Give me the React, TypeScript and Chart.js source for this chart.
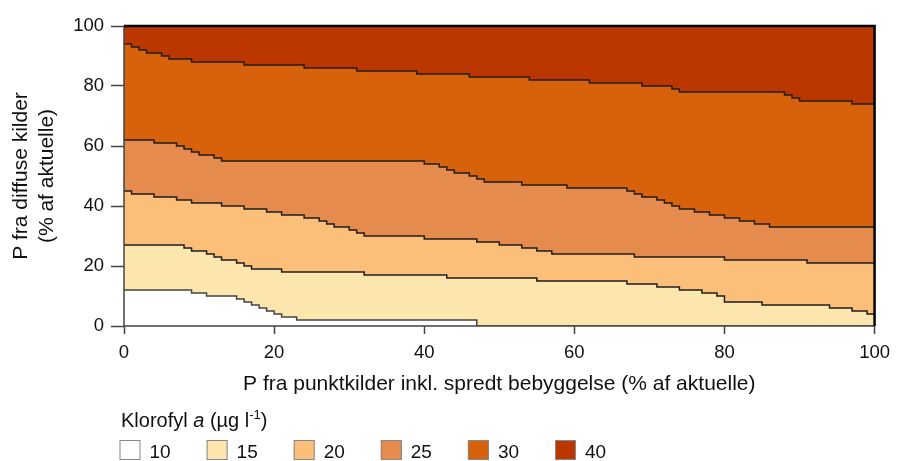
import React, { useEffect, useRef } from 'react';
import { Chart, registerables } from 'chart.js';

Chart.register(...registerables);

// Boundary between classes (x = start of each step, y = level of that step)
const b10x = [0, 9, 11, 15, 16, 17, 18, 19, 20, 21, 23, 47];
const b10y = [12, 11, 10, 9, 8, 7, 6, 5, 4, 3, 2, 0];

const b15x = [0, 8, 9, 11, 12, 13, 15, 16, 17, 21, 32, 43, 55, 67, 71, 74, 77, 79, 80, 85, 94, 97, 99];
const b15y = [27, 26, 25, 24, 23, 22, 21, 20, 19, 18, 17, 16, 15, 14, 13, 12, 11, 10, 8, 7, 6, 5, 4];

const b20x = [0, 1, 4, 7, 9, 13, 16, 19, 21, 24, 26, 27, 28, 30, 31, 32, 40, 47, 50, 53, 55, 57, 68, 80, 91];
const b20y = [45, 44, 43, 42, 41, 40, 39, 38, 37, 36, 35, 34, 33, 32, 31, 30, 29, 28, 27, 26, 25, 24, 23, 22, 21];

const b25x = [0, 4, 7, 8, 9, 10, 12, 13, 40, 42, 43, 44, 46, 47, 48, 53, 59, 67, 68, 69, 71, 72, 73, 74, 76, 78, 80, 82, 84, 86];
const b25y = [62, 61, 60, 59, 58, 57, 56, 55, 54, 53, 52, 51, 50, 49, 48, 47, 46, 45, 44, 43, 42, 41, 40, 39, 38, 37, 36, 35, 34, 33];

const b30x = [0, 1, 2, 3, 5, 6, 9, 16, 24, 31, 39, 46, 54, 62, 69, 73, 74, 88, 89, 90, 97];
const b30y = [94, 93, 92, 91, 90, 89, 88, 87, 86, 85, 84, 83, 82, 81, 80, 79, 78, 77, 76, 75, 74];

const legendLabels = ['10', '15', '20', '25', '30', '40'];
const classColors = ['#FFFFFF', '#FDE6AD', '#FBBF79', '#E48B4D', '#D8610B', '#BC3700'];

const xTitle = 'P fra punktkilder inkl. spredt bebyggelse (% af aktuelle)';
const yTitle = ['P fra diffuse kilder', '(% af aktuelle)'];
const legendTitle = ['Klorofyl ', 'a', ' (µg l', '-1', ')'];

const FONT = "'Liberation Sans', Arial, Helvetica, sans-serif";

function toPoints(xs: number[], ys: number[]) {
  const pts = xs.map((x, i) => ({ x, y: ys[i] }));
  pts.push({ x: 100, y: ys[ys.length - 1] });
  return pts;
}

const bgPlugin = {
  id: 'bgFill',
  beforeDatasetsDraw(chart: any) {
    const { ctx, chartArea: a } = chart;
    ctx.save();
    ctx.fillStyle = classColors[5];
    ctx.fillRect(a.left, a.top, a.right - a.left, a.bottom - a.top);
    ctx.restore();
  },
};

const framePlugin = {
  id: 'frame',
  afterDatasetsDraw(chart: any) {
    const { ctx, chartArea: a } = chart;
    ctx.save();
    ctx.strokeStyle = '#444';
    ctx.lineWidth = 1.5;
    ctx.beginPath();
    ctx.moveTo(a.left, a.top);
    ctx.lineTo(a.left, a.bottom);
    ctx.lineTo(a.right, a.bottom);
    ctx.stroke();
    ctx.strokeStyle = '#000';
    ctx.lineWidth = 2.5;
    ctx.beginPath();
    ctx.moveTo(a.left, a.top);
    ctx.lineTo(a.right, a.top);
    ctx.lineTo(a.right, a.bottom);
    ctx.stroke();
    ctx.restore();
  },
};

const legendPlugin = {
  id: 'legendDraw',
  afterDraw(chart: any) {
    const ctx = chart.ctx;
    ctx.save();
    ctx.fillStyle = '#111';
    ctx.textBaseline = 'alphabetic';
    ctx.textAlign = 'left';
    let x = 121;
    const y = 427;
    const styles: [string, number, number][] = [
      ['normal', 20, 0],
      ['italic', 20, 0],
      ['normal', 20, 0],
      ['normal', 13, -8],
      ['normal', 20, 0],
    ];
    legendTitle.forEach((t, i) => {
      const [st, sz, dy] = styles[i];
      ctx.font = `${st} ${sz}px ${FONT}`;
      ctx.fillText(t, x, y + dy);
      x += ctx.measureText(t).width;
    });
    legendLabels.forEach((lab, i) => {
      const bx = 119.5 + i * 87.1;
      ctx.fillStyle = classColors[i];
      ctx.fillRect(bx, 440, 21, 20);
      ctx.strokeStyle = '#888';
      ctx.lineWidth = 1;
      ctx.strokeRect(bx + 0.5, 440.5, 20, 19);
      ctx.fillStyle = '#111';
      ctx.font = `normal 19px ${FONT}`;
      ctx.fillText(lab, bx + 30, 458);
    });
    ctx.restore();
  },
};

export default function App() {
  const ref = useRef<HTMLCanvasElement | null>(null);

  useEffect(() => {
    document.body.style.margin = '0';
    Chart.defaults.font.family = FONT;
    const boundaries = [
      toPoints(b10x, b10y),
      toPoints(b15x, b15y),
      toPoints(b20x, b20y),
      toPoints(b25x, b25y),
      toPoints(b30x, b30y),
    ];
    const datasets = boundaries.map((pts, i) => ({
      data: pts,
      fill: 'origin',
      backgroundColor: classColors[i],
      borderColor: i === 0 ? '#444' : '#1e1e1e',
      borderWidth: 1.5,
      stepped: 'before' as const,
      pointRadius: 0,
      tension: 0,
    }));
    const chart = new Chart(ref.current!, {
      type: 'line',
      data: { datasets },
      plugins: [bgPlugin, framePlugin, legendPlugin],
      options: {
        animation: false,
        responsive: false,
        devicePixelRatio: 1,
        layout: { padding: { left: 0, right: 21, top: 26, bottom: 60 } },
        plugins: { legend: { display: false }, tooltip: { enabled: false } },
        scales: {
          x: {
            type: 'linear',
            min: 0,
            max: 100,
            ticks: { stepSize: 20, color: '#111', font: { size: 18.5 }, padding: 8, maxRotation: 0 },
            grid: { drawOnChartArea: false, drawTicks: true, tickLength: 8, tickColor: '#444', tickWidth: 1.5 },
            border: { display: false },
            title: { display: true, text: xTitle, color: '#111', font: { size: 21 }, padding: { top: 0, bottom: 4 } },
            afterFit: (s: any) => { s.height = 75; },
          },
          y: {
            type: 'linear',
            min: 0,
            max: 100,
            ticks: { stepSize: 20, color: '#111', font: { size: 18.5 }, padding: 7 },
            grid: { drawOnChartArea: false, drawTicks: true, tickLength: 13, tickColor: '#444', tickWidth: 1.5 },
            border: { display: false },
            title: { display: true, text: yTitle, color: '#111', font: { size: 21 }, padding: { top: 9, bottom: 0 } },
            afterFit: (s: any) => { s.width = 124; },
          },
        },
      } as any,
    });
    return () => chart.destroy();
  }, []);

  return (
    <div style={{ position: 'absolute', left: 0, top: 0, width: 898, height: 461 }}>
      <canvas ref={ref} width={898} height={461} style={{ width: 898, height: 461, display: 'block' }} />
    </div>
  );
}
